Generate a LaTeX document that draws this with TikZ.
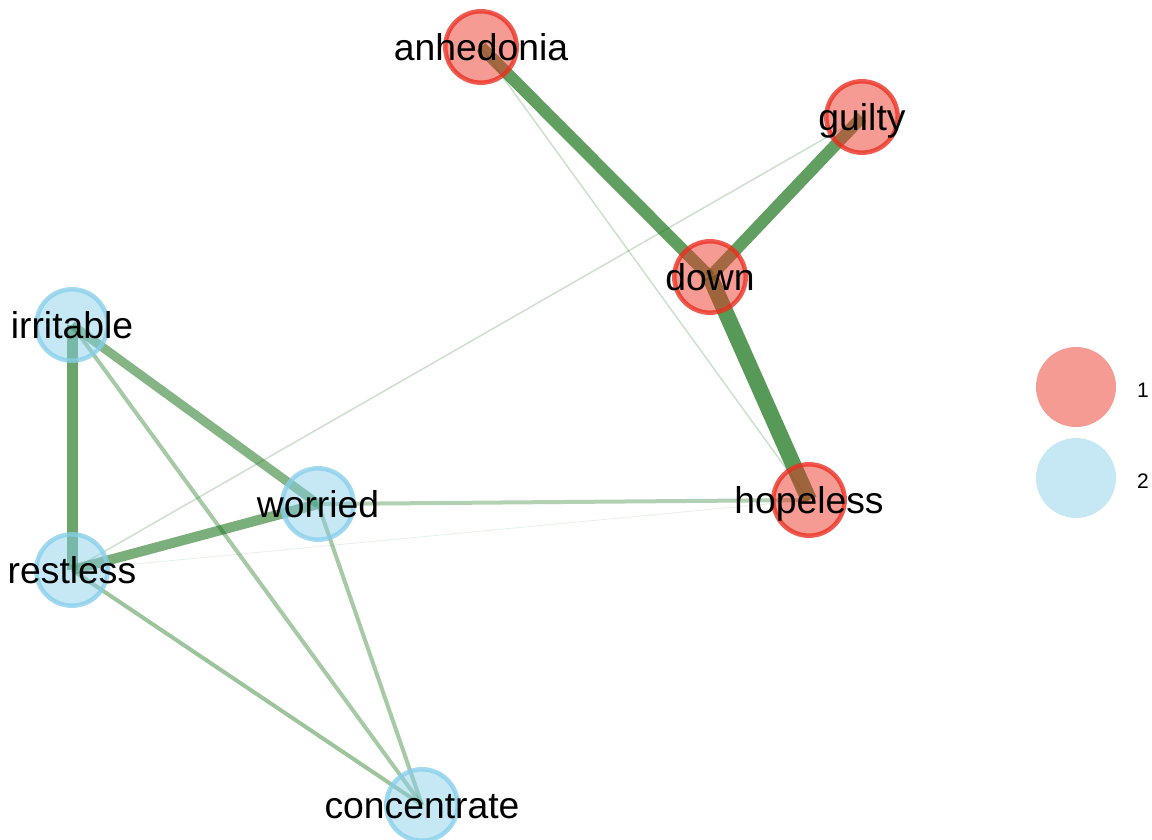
\documentclass[tikz,border=0pt]{standalone}
\usepackage{fontspec}
\setmainfont{Liberation Sans}
\usetikzlibrary{backgrounds}

\definecolor{edgegreen}{RGB}{0,100,0}
\definecolor{redfill}{RGB}{236,45,32}
\definecolor{bluefill}{RGB}{135,206,235}

\tikzset{
  edge/.style={draw=edgegreen, line cap=butt},
  symnode/.style={circle, minimum size=71.4pt, inner sep=0pt, line width=4.5pt,
    fill opacity=0.48, draw opacity=0.78},
  rednode/.style={symnode, fill=redfill, draw=redfill},
  bluenode/.style={symnode, fill=bluefill, draw=bluefill},
  lab/.style={anchor=base, inner sep=0pt, text=black,
    font=\fontsize{37.3}{44}\selectfont},
  legdot/.style={circle, minimum size=80pt, inner sep=0pt, draw=none, fill opacity=0.48},
  leglab/.style={anchor=base, inner sep=0pt, text=black,
    font=\fontsize{21}{25}\selectfont},
}

\begin{document}
\begin{tikzpicture}[x=1pt, y=-1pt]
  \path[use as bounding box] (0,0) rectangle (1152,840);
  \clip (0,0) rectangle (1152,840);

  % symptom nodes, cluster 1
  \node[rednode] (anh) at (481,47) {};
  \node[rednode] (gui) at (862,117) {};
  \node[rednode] (dow) at (710,277) {};
  \node[rednode] (hop) at (809,500) {};
  % symptom nodes, cluster 2
  \node[bluenode] (irr) at (72,325) {};
  \node[bluenode] (wor) at (318,504) {};
  \node[bluenode] (res) at (72,570) {};
  \node[bluenode] (con) at (422,805) {};

  % edges, weight shown by width and opacity
  \begin{scope}[on background layer]
    \draw[edge, line width=12pt, draw opacity=0.62] (anh.center) -- (dow.center);
    \draw[edge, line width=12pt, draw opacity=0.62] (gui.center) -- (dow.center);
    \draw[edge, line width=16pt, draw opacity=0.66] (dow.center) -- (hop.center);
    \draw[edge, line width=1.5pt, draw opacity=0.2] (anh.center) -- (hop.center);
    \draw[edge, line width=1.5pt, draw opacity=0.2] (gui.center) -- (res.center);
    \draw[edge, line width=11pt, draw opacity=0.58] (irr.center) -- (res.center);
    \draw[edge, line width=9pt, draw opacity=0.48] (irr.center) -- (wor.center);
    \draw[edge, line width=10pt, draw opacity=0.52] (res.center) -- (wor.center);
    \draw[edge, line width=4pt, draw opacity=0.35] (irr.center) -- (con.center);
    \draw[edge, line width=4pt, draw opacity=0.35] (wor.center) -- (con.center);
    \draw[edge, line width=4pt, draw opacity=0.38] (res.center) -- (con.center);
    \draw[edge, line width=4pt, draw opacity=0.3] (wor.center) -- (hop.center);
    \draw[edge, line width=0.8pt, draw opacity=0.1] (res.center) -- (hop.center);
  \end{scope}

  % labels
  \node[lab] (anhT) at ([yshift=-13.3pt]anh.center) {anhedonia};
  \node[lab] (guiT) at ([yshift=-13.3pt]gui.center) {guilty};
  \node[lab] (dowT) at ([yshift=-13.3pt]dow.center) {down};
  \node[lab] (hopT) at ([yshift=-13.3pt]hop.center) {hopeless};
  \node[lab] (irrT) at ([yshift=-13.3pt]irr.center) {irritable};
  \node[lab] (worT) at ([yshift=-13.3pt]wor.center) {worried};
  \node[lab] (resT) at ([yshift=-13.3pt]res.center) {restless};
  \node[lab] (conT) at ([yshift=-13.3pt]con.center) {concentrate};

  % legend
  \node[legdot, fill=redfill] (leg1) at (1076,387) {};
  \node[legdot, fill=bluefill] (leg2) at (1076,478) {};
  \node[leglab] (leg1T) at (1143,397.5) {1};
  \node[leglab] (leg2T) at (1143,488.5) {2};
\end{tikzpicture}
\end{document}
